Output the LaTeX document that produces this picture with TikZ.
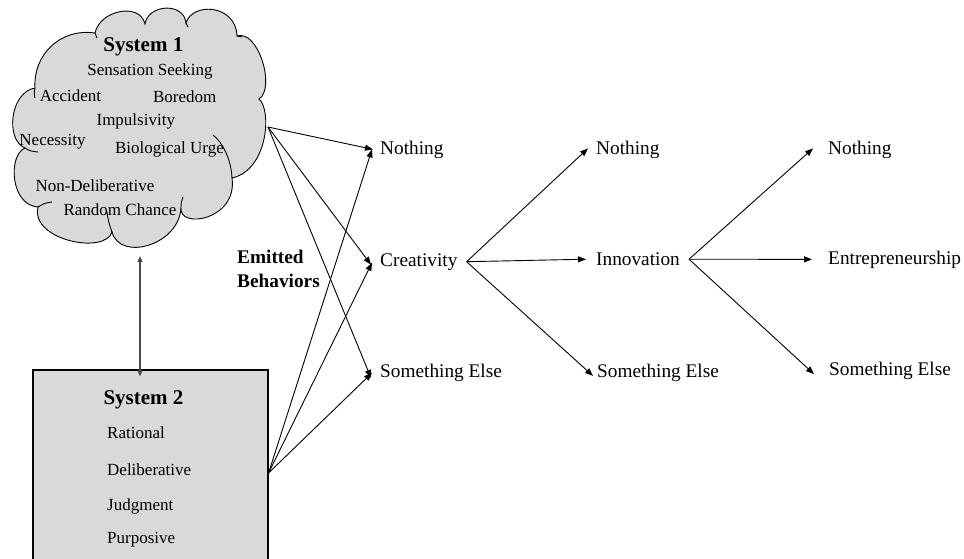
\documentclass[tikz,border=0pt]{standalone}
\usepackage{fontspec}
\setmainfont{Liberation Serif}
\usetikzlibrary{arrows.meta,calc}
\definecolor{fillg}{HTML}{D9D9D9}
\begin{document}
\begin{tikzpicture}[x=1pt,y=-1pt,
  lbl/.style={font=\fontsize{19.3}{23}\selectfont, inner sep=0pt, anchor=base west},
  itm/.style={font=\fontsize{17}{20}\selectfont, inner sep=0pt, anchor=base},
  itml/.style={font=\fontsize{17}{20}\selectfont, inner sep=0pt, anchor=base west},
  hd/.style={font=\bfseries\fontsize{21}{24}\selectfont, inner sep=0pt, anchor=base},
  arr/.style={-{Triangle[length=8pt,width=6pt]}, line width=0.9pt},
  darr/.style={{Triangle[length=6pt,width=5pt]}-{Triangle[length=6pt,width=5pt]}, line width=1.3pt, draw=black!70, fill=black!70},
  cloudline/.style={line width=0.9pt},
  sysbox/.style={draw, line width=1.1pt, fill=fillg, minimum width=235pt, minimum height=206pt, inner sep=0pt}
]
\useasboundingbox (0,0) rectangle (964,558);
\clip (0,0) rectangle (964,558);

% ---------- System 1 cloud ----------
\filldraw[cloudline, fill=fillg]
  (95,33) .. controls (100,10) and (140,2) .. (145,24)
  .. controls (148,4) and (184,2) .. (186,23)
  .. controls (192,2) and (236,4) .. (237,36)
  .. controls (258,29) and (276,88) .. (259,99)
  .. controls (272,110) and (268,170) .. (232,178)
  .. controls (238,220) and (178,230) .. (181,207)
  .. controls (180,245) and (120,262) .. (112,232)
  .. controls (105,255) and (30,240) .. (38,207)
  .. controls (10,205) and (8,155) .. (25,148)
  .. controls (5,140) and (10,92) .. (35,88)
  .. controls (33,55) and (60,28) .. (95,33) -- cycle;
% inner arcs of the cloud
\draw[cloudline] (213,135) .. controls (222,142) and (231,158) .. (232,178);
\draw[cloudline] (107,212) .. controls (108,220) and (110,227) .. (112,232);
\draw[cloudline] (181,207) .. controls (181,203) .. (183,197);
\draw[cloudline] (35,88) .. controls (34,93) .. (35,98);
\draw[cloudline] (25,148) .. controls (30,151) .. (38,152);
\draw[cloudline] (38,207) .. controls (45,203) .. (52,202);
\draw[cloudline] (95,33) -- (97,38);
\draw[cloudline] (186,23) -- (188,27);
\draw[cloudline] (237,36) -- (242,37);

\node[hd]  (s1t)  at (143.3,51.5) {System 1};
\node[itm] (sens) at (150,75)   {Sensation Seeking};
\node[itm] (acc)  at (70.5,101) {Accident};
\node[itm] (bor)  at (184.7,102.7) {Boredom};
\node[itm] (imp)  at (135.8,125) {Impulsivity};
\node[itm] (nec)  at (52.5,145) {Necessity};
\node[itm] (bio)  at (169.5,153.3) {Biological Urge};
\node[itm] (nond) at (95,191.7) {Non-Deliberative};
\node[itm] (rand) at (120,215.7) {Random Chance};

\coordinate (cl) at (268,127);
\coordinate (cbot) at (140,256);

% ---------- System 2 box ----------
\node[sysbox] (box) at (150.5,473) {};
\node[hd]   (s2t) at (143.5,404) {System 2};
\node[itml] (rat) at (107,438.3) {Rational};
\node[itml] (del) at (107,475.7) {Deliberative};
\node[itml] (jud) at (107,510) {Judgment};
\node[itml] (pur) at (107,543.3) {Purposive};

\draw[darr] (cbot) -- ([yshift=-7pt]cbot |- box.north);

% ---------- labels ----------
\node[font=\bfseries\fontsize{19.3}{24}\selectfont, align=left, inner sep=0pt, anchor=north west] (eb) at (237,250) {Emitted\\Behaviors};

\node[lbl] (n1) at (380,154)   {Nothing};
\node[lbl] (c1) at (380,266)   {Creativity};
\node[lbl] (s1) at (380,377.5) {Something Else};

\node[lbl] (n2) at (596,154)   {Nothing};
\node[lbl] (i2) at (596,265.5) {Innovation};
\node[lbl] (s2) at (597,377.5) {Something Else};

\node[lbl] (n3) at (828,154)   {Nothing};
\node[lbl] (e3) at (828,264)   {Entrepreneurship};
\node[lbl] (s3) at (829,375.7) {Something Else};

% ---------- connectors ----------
\draw[arr] (cl) -- ([xshift=-7pt]n1.west);
\draw[arr] (cl) -- ([xshift=-9pt,yshift=-3pt]c1.west);
\draw[arr] (cl) -- ([xshift=-9pt,yshift=-5pt]s1.west);
\draw[arr] (box.east) -- ([xshift=-8pt]n1.west);
\draw[arr] (box.east) -- ([xshift=-8pt,yshift=-1pt]c1.west);
\draw[arr] (box.east) -- ([xshift=-8pt]s1.west);

\draw[arr] ([xshift=9pt]c1.east) -- ([xshift=-8pt,yshift=1pt]n2.west);
\draw[arr] ([xshift=9pt]c1.east) -- ([xshift=-10pt]i2.west);
\draw[arr] ([xshift=9pt]c1.east) -- ([xshift=-4pt,yshift=-3pt]s2.west);

\draw[arr] ([xshift=9pt]i2.east) -- ([xshift=-15pt,yshift=1pt]n3.west);
\draw[arr] ([xshift=9pt]i2.east) -- ([xshift=-16pt]e3.west);
\draw[arr] ([xshift=9pt]i2.east) -- ([xshift=-15pt,yshift=-3pt]s3.west);
\end{tikzpicture}
\end{document}
